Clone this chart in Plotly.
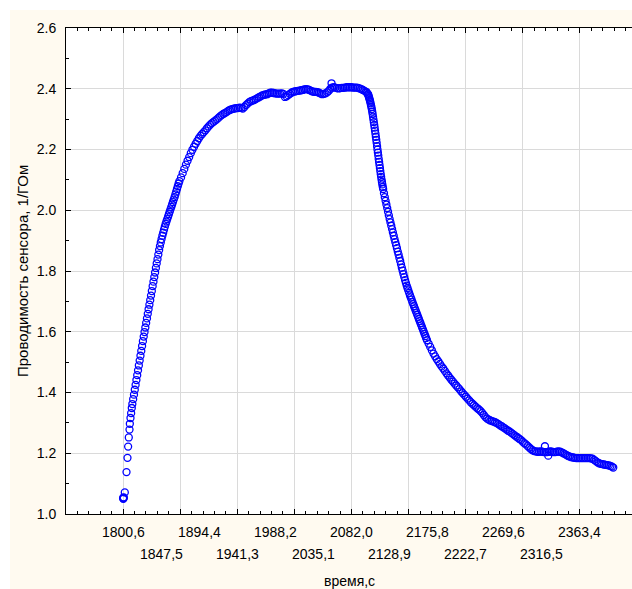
import plotly.graph_objects as go

# ---------------- data (time, s ; conductance, 1/GOhm) ----------------
rise_t = [1800.6, 1800.9, 1801.2, 1801.5, 1802.7, 1804.8, 1806.0, 1806.8, 1807.6, 1808.5,
          1808.9, 1809.7, 1810.5, 1811.3,
          1812, 1813, 1814, 1815, 1816, 1817, 1818, 1819, 1820, 1821, 1822, 1823, 1824, 1825,
          1826, 1827, 1828, 1829, 1830, 1831, 1832, 1833, 1834, 1835, 1836, 1837, 1838, 1839,
          1840, 1841, 1842, 1843, 1844, 1845, 1846,
          1847, 1848, 1849, 1850, 1851, 1852, 1853, 1854, 1855, 1856, 1857, 1858, 1859, 1860,
          1861, 1862, 1863, 1864, 1865, 1866, 1867, 1868, 1869, 1870]
rise_g = [1.052, 1.050, 1.055, 1.053, 1.071, 1.138, 1.185, 1.222, 1.252, 1.278,
          1.297, 1.316, 1.332, 1.349,
          1.362, 1.378, 1.393, 1.409, 1.425, 1.441, 1.457, 1.473, 1.489, 1.505, 1.521, 1.537, 1.553, 1.569,
          1.584, 1.599, 1.614, 1.629, 1.644, 1.659, 1.674, 1.689, 1.704, 1.719, 1.734, 1.750, 1.765, 1.780,
          1.795, 1.810, 1.825, 1.839, 1.854, 1.869, 1.882,
          1.894, 1.905, 1.916, 1.926, 1.936, 1.946, 1.955, 1.963, 1.971, 1.979, 1.987, 1.995, 2.003, 2.011,
          2.019, 2.027, 2.035, 2.043, 2.052, 2.061, 2.070, 2.079, 2.088, 2.096]

plateau_t = [1872, 1874, 1876, 1878, 1880, 1882, 1884, 1886, 1888, 1890, 1892, 1894, 1896, 1898,
             1900, 1902, 1904, 1906, 1908, 1910, 1912, 1914, 1916, 1918, 1920, 1922, 1924, 1926,
             1928, 1930, 1932, 1934, 1936, 1938, 1940, 1942, 1944, 1946, 1948, 1950, 1952, 1954,
             1956, 1958, 1960, 1962, 1964, 1966, 1968, 1970, 1972, 1974, 1976, 1978, 1980, 1982,
             1984, 1986, 1988, 1990, 1992, 1994, 1996, 1998, 2000, 2002, 2004, 2006, 2008, 2010,
             2012, 2014, 2016, 2018, 2020, 2022, 2024, 2026, 2028, 2030, 2032, 2034, 2036, 2038,
             2040, 2042, 2044, 2046, 2048, 2050, 2052, 2054, 2056, 2057.4, 2058, 2060, 2062, 2064,
             2066, 2068, 2070, 2072, 2074, 2076, 2078, 2080, 2082, 2084, 2086, 2088, 2090, 2092,
             2094, 2096, 2098, 2100, 2101, 2102]
plateau_g = [2.108, 2.122, 2.136, 2.150, 2.163, 2.175, 2.188, 2.199, 2.209, 2.219, 2.228, 2.237, 2.245, 2.251,
             2.257, 2.263, 2.270, 2.276, 2.282, 2.287, 2.291, 2.295, 2.299, 2.304, 2.309, 2.313, 2.317, 2.320,
             2.323, 2.327, 2.330, 2.332, 2.334, 2.335, 2.336, 2.336, 2.338, 2.337, 2.335, 2.340, 2.346, 2.351,
             2.356, 2.359, 2.361, 2.363, 2.366, 2.369, 2.372, 2.375, 2.378, 2.380, 2.381, 2.382, 2.385, 2.387,
             2.387, 2.386, 2.385, 2.384, 2.384, 2.384, 2.385, 2.383, 2.373, 2.375, 2.379, 2.383, 2.387, 2.390,
             2.391, 2.392, 2.393, 2.394, 2.395, 2.396, 2.398, 2.399, 2.398, 2.396, 2.393, 2.391, 2.390, 2.390,
             2.389, 2.387, 2.384, 2.382, 2.383, 2.385, 2.388, 2.393, 2.400, 2.418, 2.404, 2.405, 2.404, 2.402,
             2.401, 2.402, 2.403, 2.403, 2.404, 2.405, 2.405, 2.405, 2.405, 2.404, 2.404, 2.404, 2.403, 2.401,
             2.399, 2.396, 2.393, 2.390, 2.387, 2.383]

decay_t = [2102.5, 2103.0, 2103.5, 2104.0, 2104.5, 2105.0, 2105.5, 2106.0, 2106.5, 2107.0,
           2107.5, 2108.0, 2108.5, 2109.0, 2109.5, 2110.0, 2110.5, 2111.0, 2111.5, 2112.0,
           2112.5, 2113.0, 2113.5, 2114.0, 2114.5, 2115.0, 2115.5, 2116.0, 2116.5, 2117.0,
           2117.5, 2118.0, 2118.5, 2119.0, 2119.5, 2120.0, 2120.5, 2121.0,
           2122, 2123, 2124, 2125, 2126, 2127, 2128, 2129, 2130, 2131, 2132, 2133, 2134, 2135,
           2136, 2137, 2138, 2139, 2140, 2141, 2142, 2143, 2144, 2145, 2146, 2147, 2148, 2149,
           2150, 2151, 2152, 2153, 2154, 2155, 2156, 2157, 2158, 2159, 2160, 2161, 2162, 2163,
           2164, 2165, 2166, 2167, 2168, 2169, 2170, 2171, 2172, 2173, 2174, 2175]
decay_g = [2.381, 2.377, 2.372, 2.368, 2.363, 2.358, 2.352, 2.346, 2.340, 2.333,
           2.325, 2.317, 2.308, 2.299, 2.290, 2.281, 2.272, 2.262, 2.252, 2.242,
           2.232, 2.222, 2.211, 2.200, 2.190, 2.180, 2.169, 2.159, 2.149, 2.139,
           2.129, 2.119, 2.110, 2.101, 2.093, 2.085, 2.077, 2.070,
           2.056, 2.043, 2.031, 2.019, 2.007, 1.995, 1.983, 1.971, 1.960, 1.949, 1.938, 1.927, 1.916, 1.905,
           1.895, 1.885, 1.875, 1.864, 1.854, 1.843, 1.833, 1.822, 1.811, 1.801, 1.790, 1.780, 1.770, 1.761,
           1.752, 1.744, 1.736, 1.728, 1.720, 1.713, 1.706, 1.698, 1.691, 1.684, 1.677, 1.670, 1.663, 1.656,
           1.649, 1.642, 1.635, 1.628, 1.621, 1.614, 1.607, 1.600, 1.593, 1.586, 1.579, 1.572]

tail_t = [2177, 2179, 2181, 2183, 2185, 2187, 2189, 2191, 2193, 2195, 2197, 2199, 2201, 2203,
          2205, 2207, 2209, 2211, 2213, 2215, 2217, 2219, 2221, 2223, 2225, 2227, 2229, 2231,
          2233, 2235, 2237, 2239, 2241, 2243, 2245, 2247, 2249, 2251, 2253, 2255, 2257, 2259,
          2261, 2263, 2265, 2267, 2269, 2271, 2273, 2275, 2277, 2279, 2281, 2283, 2285, 2287,
          2289, 2291, 2293, 2295, 2297, 2299, 2301, 2303, 2305, 2307, 2309, 2311, 2313, 2315,
          2317, 2319, 2320.3, 2321, 2323, 2324.4, 2325, 2327, 2329, 2331, 2333, 2335, 2337, 2339,
          2341, 2343, 2345, 2347, 2349, 2351, 2353, 2355, 2357, 2359, 2361, 2363, 2365, 2367,
          2369, 2371, 2373, 2375, 2377, 2379, 2381, 2383, 2385, 2387, 2389, 2391, 2393, 2395,
          2397, 2399, 2401, 2403, 2404.5]
tail_g = [1.561, 1.550, 1.539, 1.528, 1.519, 1.510, 1.502, 1.494, 1.486, 1.479, 1.471, 1.463, 1.456, 1.449,
          1.442, 1.436, 1.429, 1.423, 1.417, 1.411, 1.404, 1.398, 1.392, 1.386, 1.380, 1.374, 1.368, 1.363,
          1.358, 1.353, 1.348, 1.344, 1.339, 1.333, 1.326, 1.319, 1.314, 1.311, 1.308, 1.306, 1.304, 1.302,
          1.299, 1.296, 1.292, 1.289, 1.285, 1.282, 1.278, 1.274, 1.271, 1.267, 1.263, 1.259, 1.255, 1.251,
          1.247, 1.243, 1.238, 1.233, 1.229, 1.224, 1.219, 1.214, 1.210, 1.207, 1.206, 1.205, 1.205, 1.206,
          1.205, 1.204, 1.223, 1.204, 1.204, 1.192, 1.205, 1.206, 1.205, 1.204, 1.204, 1.205, 1.206, 1.205,
          1.203, 1.200, 1.197, 1.194, 1.191, 1.189, 1.187, 1.186, 1.185, 1.184, 1.184, 1.184, 1.184, 1.184,
          1.184, 1.184, 1.184, 1.184, 1.183, 1.182, 1.178, 1.174, 1.170, 1.167, 1.165, 1.164, 1.163, 1.162,
          1.161, 1.160, 1.158, 1.156, 1.153]

x_tick_vals = [1800.6, 1847.5, 1894.4, 1941.3, 1988.2, 2035.1, 2082.0,
               2128.9, 2175.8, 2222.7, 2269.6, 2316.5, 2363.4]
x_tick_text = ["1800,6", "1847,5", "1894,4", "1941,3", "1988,2", "2035,1", "2082,0",
               "2128,9", "2175,8", "2222,7", "2269,6", "2316,5", "2363,4"]

x_title = "время,с"
y_title = "Проводимость сенсора, 1/ГОм"

# ---------------- figure ----------------
W, H = 632, 589
ML, MR, MT, MB = 66, 0, 28, 75
PW, PH = W - ML - MR, H - MT - MB

def px_x(px):
    return (px - ML) / PW

def px_y(py):
    return (H - MB - py) / PH

FONT = "Liberation Sans, Arial, sans-serif"
CREAM = "#FFFAF0"

t_all = rise_t + plateau_t + decay_t + tail_t
g_all = rise_g + plateau_g + decay_g + tail_g

fig = go.Figure()
fig.add_trace(go.Scatter(
    x=t_all, y=g_all, mode="markers",
    marker=dict(symbol="circle-open", size=7, color="#0000FF",
                line=dict(width=1.3, color="#0000FF")),
    showlegend=False, hoverinfo="x+y",
))

annotations = []
for i, (v, txt) in enumerate(zip(x_tick_vals, x_tick_text)):
    annotations.append(dict(
        x=v, xref="x", y=0, yref="paper", text=txt, showarrow=False,
        xanchor="center", yanchor="top", yshift=-8 if i % 2 == 0 else -30,
        font=dict(family=FONT, size=14, color="#000000"),
    ))
annotations.append(dict(
    x=0.5, xref="paper", y=px_y(581), yref="paper", text=x_title, showarrow=False,
    xanchor="center", yanchor="middle", font=dict(family=FONT, size=14, color="#000000"),
))
annotations.append(dict(
    x=px_x(22), xref="paper", y=0.5, yref="paper", text=y_title, showarrow=False,
    textangle=-90, xanchor="center", yanchor="middle",
    font=dict(family=FONT, size=15, color="#000000"),
))

shapes = [
    dict(type="rect", xref="paper", yref="paper", layer="below",
         x0=px_x(0), x1=px_x(W + 5), y0=px_y(10), y1=px_y(-5),
         fillcolor="#FFFFFF", line=dict(width=0)),
    dict(type="rect", xref="paper", yref="paper", layer="below",
         x0=px_x(-5), x1=px_x(10), y0=px_y(H + 5), y1=px_y(-5),
         fillcolor="#FFFFFF", line=dict(width=0)),
]

x0_range = 1730.25
x_scale = 70.35 / 57.1  # seconds per pixel
fig.update_layout(
    width=W, height=H, autosize=False,
    margin=dict(l=ML, r=MR, t=MT, b=MB, pad=0),
    paper_bgcolor=CREAM, plot_bgcolor="#FFFFFF",
    font=dict(family=FONT, size=14, color="#000000"),
    annotations=annotations, shapes=shapes,
    xaxis=dict(
        range=[x0_range, x0_range + PW * x_scale],
        tick0=x0_range, dtick=70.35, showticklabels=False,
        ticks="inside", ticklen=5, tickcolor="#000000", tickwidth=1,
        showgrid=True, gridcolor="#DADADA", gridwidth=1,
        showline=True, linecolor="#000000", linewidth=1, mirror="ticks",
        zeroline=False,
        minor=dict(tick0=x0_range, dtick=70.35 / 5, ticks="inside", ticklen=3,
                   tickcolor="#000000", showgrid=False),
    ),
    yaxis=dict(
        range=[1.0, 2.6], tick0=1.0, dtick=0.2, tickformat=".1f",
        ticks="inside", ticklen=5, tickcolor="#000000", tickwidth=1,
        showgrid=True, gridcolor="#DADADA", gridwidth=1,
        showline=True, linecolor="#000000", linewidth=1, mirror=False,
        zeroline=False, ticklabelstandoff=6,
        tickfont=dict(family=FONT, size=14, color="#000000"),
        minor=dict(dtick=0.1, ticks="inside", ticklen=3, tickcolor="#000000", showgrid=False),
    ),
)

fig.write_html("out.html")
